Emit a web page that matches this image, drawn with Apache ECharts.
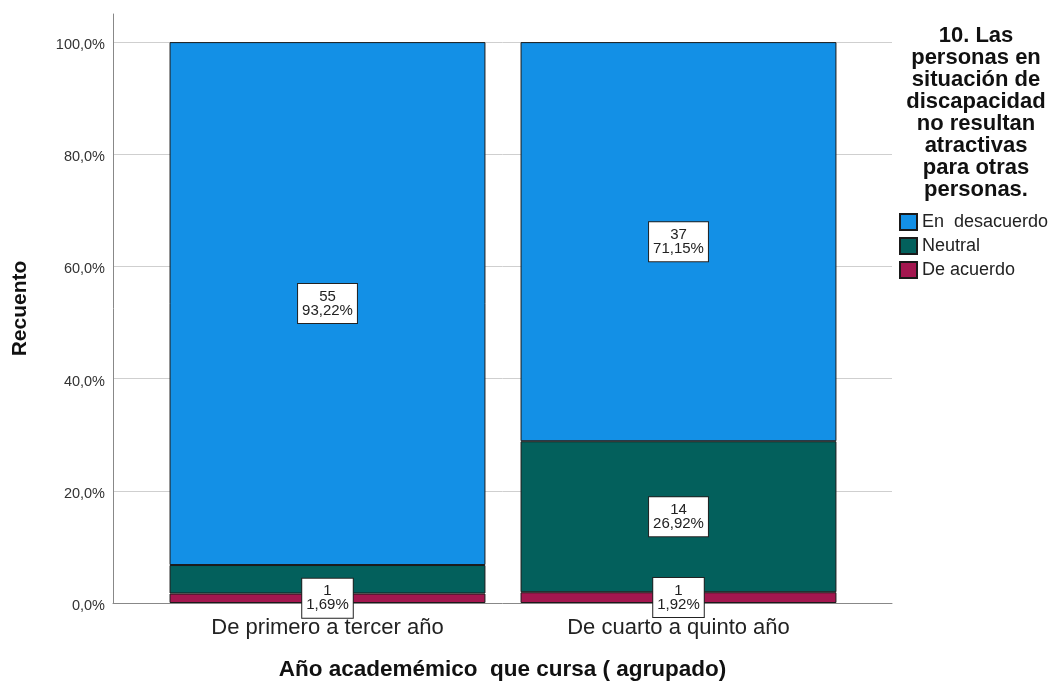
<!DOCTYPE html>
<html>
<head>
<meta charset="utf-8">
<script src="https://cdn.jsdelivr.net/npm/echarts@6/dist/echarts.min.js"></script>
<style>
html,body{margin:0;padding:0;background:#fff;}
#chart{width:1055px;height:681px;}
</style>
</head>
<body>
<div id="chart"></div>
<script>
const categories = ['De primero a tercer año', 'De cuarto a quinto año'];
const seriesNames = ['En  desacuerdo', 'Neutral', 'De acuerdo'];
const desacuerdoCount = [55, 37];
const desacuerdoPct = [93.22, 71.15];
const neutralCount = [3, 14];
const neutralPct = [5.08, 26.92];
const neutralLabelShown = [false, true];
const acuerdoCount = [1, 1];
const acuerdoPct = [1.69, 1.92];
const yTicks = [0, 20, 40, 60, 80, 100];
const legendTitle = '10. Las\npersonas en\nsituación de\ndiscapacidad\nno resultan\natractivas\npara otras\npersonas.';
const xTitle = 'Año academémico  que cursa ( agrupado)';
const yTitle = 'Recuento';

const colors = ['#1390E6', '#03605C', '#A3174F'];
const fmtPct = v => v.toFixed(2).replace('.', ',') + '%';

function makeData(counts, pcts, shown) {
  return pcts.map((p, i) => ({
    value: p,
    count: counts[i],
    label: { show: shown ? shown[i] : true }
  }));
}

const labelStyle = {
  show: true,
  position: 'inside',
  formatter: p => p.data.count + '\n' + fmtPct(p.data.value),
  backgroundColor: '#fff',
  borderColor: '#222',
  borderWidth: 1,
  padding: [6, 4, 5, 4],
  fontSize: 15,
  lineHeight: 14,
  color: '#222',
  align: 'center',
  fontFamily: 'Liberation Sans, Arial, sans-serif'
};

const itemBase = { borderColor: '#1a1a1a', borderWidth: 1 };

const chart = echarts.init(document.getElementById('chart'), null, { renderer: 'canvas' });
chart.setOption({
  animation: false,
  backgroundColor: '#fff',
  textStyle: { fontFamily: 'Liberation Sans, Arial, sans-serif' },
  grid: [
    { left: 113, right: 163, top: 14, bottom: 78, containLabel: false, outerBoundsMode: 'none' },
    { left: 152, right: 201, top: 14, bottom: 78, containLabel: false, outerBoundsMode: 'none' }
  ],
  xAxis: [
    {
      gridIndex: 0, type: 'value', min: 0, max: 1,
      axisLine: { show: true, lineStyle: { color: '#888', width: 1 } },
      axisTick: { show: false }, axisLabel: { show: false }, splitLine: { show: false },
      name: xTitle, nameLocation: 'middle', nameGap: 55,
      nameTextStyle: { fontSize: 22.5, fontWeight: 'bold', color: '#111' }
    },
    {
      gridIndex: 1, type: 'category', data: categories,
      axisLine: { show: false }, axisTick: { show: false },
      axisLabel: { fontSize: 22, color: '#222', margin: 14 }
    }
  ],
  yAxis: [
    {
      gridIndex: 0, type: 'value', min: 0, max: 105, interval: 20,
      axisLine: { show: true, lineStyle: { color: '#888', width: 1 } },
      axisTick: { show: false },
      axisLabel: {
        showMaxLabel: false, fontSize: 14.5, color: '#333', margin: 8,
        verticalAlign: 'top', lineHeight: 6,
        formatter: v => (yTicks.indexOf(v) >= 0 ? v.toFixed(1).replace('.', ',') + '%' : '')
      },
      splitLine: { show: true, showMaxLine: false, showMinLine: false, lineStyle: { color: '#cfcfcf', width: 1 } },
      name: yTitle, nameLocation: 'middle', nameGap: 82, nameRotate: 90,
      nameTextStyle: { fontSize: 21, fontWeight: 'bold', color: '#111' }
    },
    {
      gridIndex: 1, type: 'value', min: 0, max: 105, show: false
    }
  ],
  legend: {
    orient: 'vertical',
    left: 899, top: 213,
    itemWidth: 17, itemHeight: 16, itemGap: 6,
    padding: 0,
    icon: 'rect',
    data: seriesNames,
    textStyle: { fontSize: 18, color: '#222' }
  },
  title: {
    text: legendTitle,
    left: 976, top: 25, textAlign: 'center', padding: 0,
    textStyle: { fontSize: 22, fontWeight: 'bold', color: '#111', lineHeight: 22 }
  },
  series: [
    {
      name: seriesNames[2], type: 'bar', stack: 's', xAxisIndex: 1, yAxisIndex: 1,
      barWidth: '90%', itemStyle: Object.assign({ color: colors[2] }, itemBase),
      label: labelStyle, z: 3,
      data: makeData(acuerdoCount, acuerdoPct)
    },
    {
      name: seriesNames[1], type: 'bar', stack: 's', xAxisIndex: 1, yAxisIndex: 1,
      barWidth: '90%', itemStyle: Object.assign({ color: colors[1] }, itemBase),
      label: labelStyle, z: 2,
      data: makeData(neutralCount, neutralPct, neutralLabelShown)
    },
    {
      name: seriesNames[0], type: 'bar', stack: 's', xAxisIndex: 1, yAxisIndex: 1,
      barWidth: '90%', itemStyle: Object.assign({ color: colors[0] }, itemBase),
      label: labelStyle, z: 2,
      data: makeData(desacuerdoCount, desacuerdoPct)
    }
  ]
});
</script>
</body>
</html>
